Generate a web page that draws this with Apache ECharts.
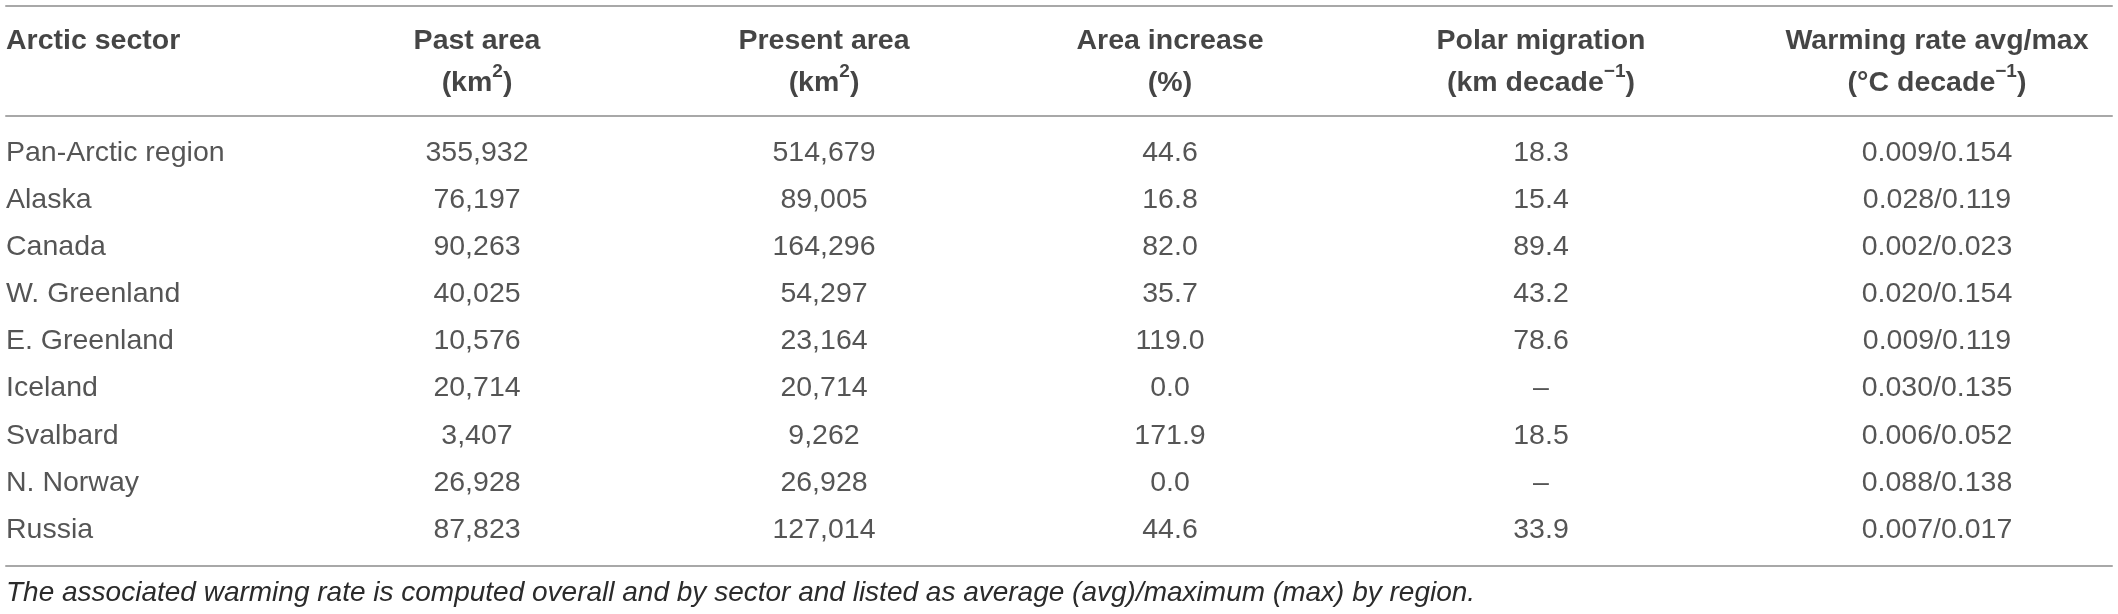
<!DOCTYPE html>
<html style="height: 100%;">
<head>
<meta charset="utf-8">
<script src="https://cdn.jsdelivr.net/npm/echarts@6/dist/echarts.min.js"></script>
</head>
<body style="height: 100%; margin: 0; background-color: #fff;">
<div id="container" style="width: 2118px; height: 614px;"></div>
<script type="text/javascript">
// table values
var sectors = ['Pan-Arctic region', 'Alaska', 'Canada', 'W. Greenland', 'E. Greenland', 'Iceland', 'Svalbard', 'N. Norway', 'Russia'];
var pastArea = [355932, 76197, 90263, 40025, 10576, 20714, 3407, 26928, 87823];
var presentArea = [514679, 89005, 164296, 54297, 23164, 20714, 9262, 26928, 127014];
var areaIncrease = [44.6, 16.8, 82.0, 35.7, 119.0, 0.0, 171.9, 0.0, 44.6];
var polarMigration = [18.3, 15.4, 89.4, 43.2, 78.6, null, 18.5, null, 33.9];
var warmingAvg = [0.009, 0.028, 0.002, 0.020, 0.009, 0.030, 0.006, 0.088, 0.007];
var warmingMax = [0.154, 0.119, 0.023, 0.154, 0.119, 0.135, 0.052, 0.138, 0.017];

var headTitles = ['Arctic sector', 'Past area', 'Present area', 'Area increase', 'Polar migration', 'Warming rate avg/max'];
// second header line, rich text: b = bold, s = superscript
var headUnits = ['{b| }', '{b|(km}{s|2}{b|)}', '{b|(km}{s|2}{b|)}', '{b|(%)}', '{b|(km decade}{s|\u22121}{b|)}', '{b|(\u00b0C decade}{s|\u22121}{b|)}'];
var footnote = 'The associated warming rate is computed overall and by sector and listed as average (avg)/maximum (max) by region.';

// column anchors (x of the text, first column is left aligned)
var colX = [6, 477, 824, 1170, 1541, 1937];
var FONT = '"Liberation Sans", Arial, Helvetica, sans-serif';

function fmtInt(v) { return v.toLocaleString('en-US'); }
function fmtDash(v, d) { return v === null ? '\u2013' : v.toFixed(d); }

var columns = [
    sectors,
    pastArea.map(fmtInt),
    presentArea.map(fmtInt),
    areaIncrease.map(function (v) { return fmtDash(v, 1); }),
    polarMigration.map(function (v) { return fmtDash(v, 1); }),
    warmingAvg.map(function (v, i) { return v.toFixed(3) + '/' + warmingMax[i].toFixed(3); })
];

var lineStyle = { color: '#a8a8a8', width: 2 };

var series = [];
headTitles.forEach(function (t, c) {
    series.push({
        type: 'scatter',
        xAxisIndex: 0, yAxisIndex: 0,
        symbolSize: 1,
        itemStyle: { color: 'rgba(0,0,0,0)' },
        data: [[colX[c], 0.486]],
        label: {
            show: true,
            position: 'inside',
            align: c === 0 ? 'left' : 'center',
            verticalAlign: 'middle',
            formatter: '{b|' + t + '}\n' + headUnits[c],
            rich: {
                b: { fontFamily: FONT, fontWeight: 'bold', fontSize: 28.5, lineHeight: 42, color: '#161616' },
                s: { fontFamily: FONT, fontWeight: 'bold', fontSize: 19, lineHeight: 20, verticalAlign: 'top', color: '#161616' }
            }
        }
    });
});
columns.forEach(function (col, c) {
    series.push({
        type: 'scatter',
        xAxisIndex: 2, yAxisIndex: 1,
        symbolSize: 1,
        itemStyle: { color: 'rgba(0,0,0,0)' },
        data: col.map(function (txt, i) { return { value: [colX[c], i], name: txt }; }),
        label: {
            show: true,
            position: 'inside',
            align: c === 0 ? 'left' : 'center',
            verticalAlign: 'middle',
            fontFamily: FONT,
            fontSize: 28.5,
            color: '#2b2b2b',
            formatter: function (p) { return p.name; }
        }
    });
});

function ruleAxis(gridIndex, position) {
    return {
        gridIndex: gridIndex, type: 'value', position: position, min: 6, max: 2112,
        axisLine: { show: true, onZero: false, lineStyle: lineStyle },
        axisTick: { show: false }, axisLabel: { show: false }, splitLine: { show: false }
    };
}

var myChart = echarts.init(document.getElementById('container'));
var option = {
    animation: false,
    backgroundColor: '#fff',
    title: {
        text: footnote,
        left: 6, top: 578, padding: 0,
        textStyle: { fontFamily: FONT, fontStyle: 'italic', fontWeight: 'normal', fontSize: 28, lineHeight: 30, color: '#2b2b2b' }
    },
    grid: [
        { left: 6, right: 6, top: 6, height: 110 },
        { left: 6, right: 6, top: 116, height: 450 }
    ],
    xAxis: [ruleAxis(0, 'top'), ruleAxis(0, 'bottom'), ruleAxis(1, 'bottom')],
    yAxis: [
        { gridIndex: 0, type: 'value', min: 0, max: 1, show: false },
        { gridIndex: 1, type: 'value', inverse: true, min: -0.785, max: 8.764, show: false }
    ],
    series: series
};
myChart.setOption(option);
</script>
</body>
</html>
